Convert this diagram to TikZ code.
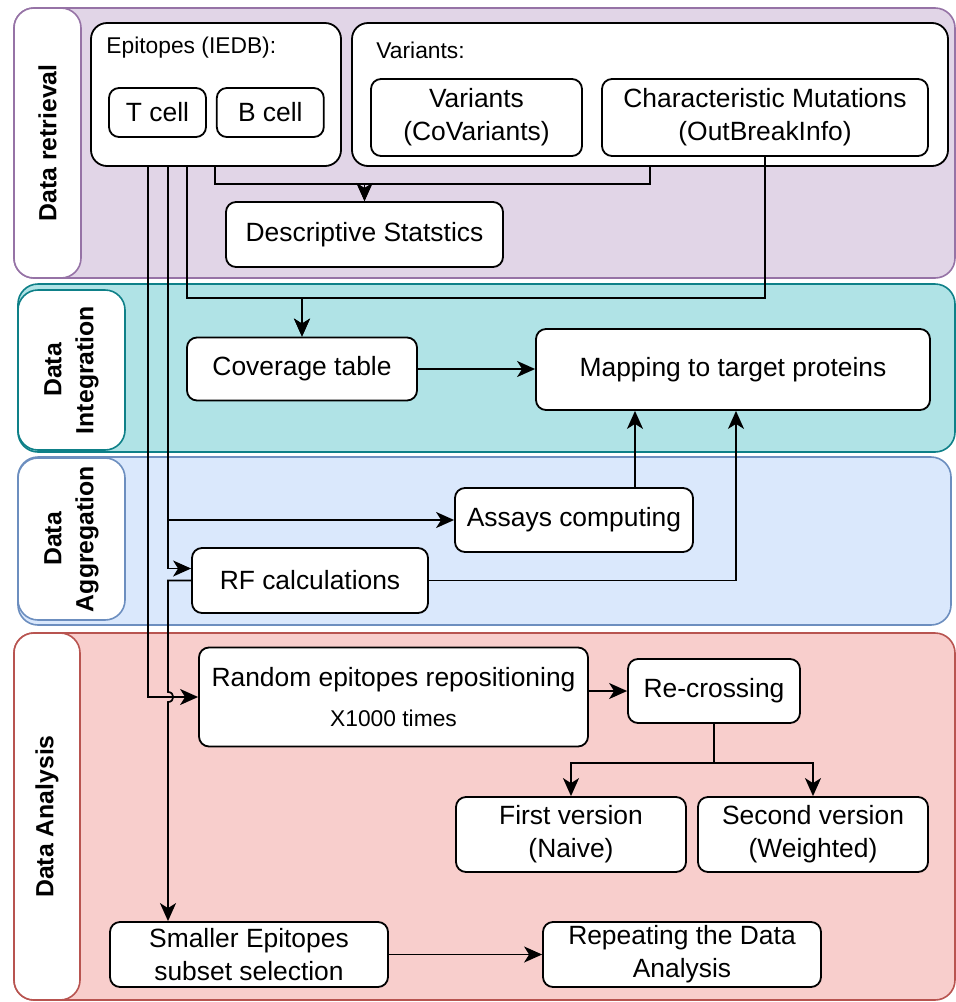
\documentclass[tikz,border=0pt]{standalone}
\usepackage{fontspec}
\setmainfont{Liberation Sans}
\usepackage{tikz}
\usetikzlibrary{positioning,arrows.meta,calc}

\definecolor{retrievalfill}{HTML}{E1D5E7}
\definecolor{retrievaldraw}{HTML}{9673A6}
\definecolor{integrationfill}{HTML}{B0E3E6}
\definecolor{integrationdraw}{HTML}{0E8088}
\definecolor{aggregationfill}{HTML}{DAE8FC}
\definecolor{aggregationdraw}{HTML}{6C8EBF}
\definecolor{analysisfill}{HTML}{F8CECC}
\definecolor{analysisdraw}{HTML}{B85450}

\newcommand{\blkfont}{\fontsize{13.2}{16.5}\selectfont}
\newcommand{\smlfont}{\fontsize{11.4}{13.7}\selectfont}
\newcommand{\lanefont}{\fontsize{12.4}{16}\selectfont\bfseries}

\begin{document}
\begin{tikzpicture}[
  x=0.5pt, y=-0.5pt,
  font=\blkfont,
  lane/.style={draw, rounded corners=10pt, line width=0.8pt},
  lanelabel/.style={draw, fill=white, rounded corners=10pt, line width=0.8pt,
                    rotate=90, align=center, font=\lanefont},
  group/.style={draw, fill=white, rounded corners=8pt, line width=0.9pt},
  block/.style={draw, fill=white, rounded corners=5pt, line width=0.9pt,
                align=center, inner sep=1pt},
  arrow/.style={-{Stealth[length=9pt,width=8pt,inset=2.5pt]}, line width=0.85pt}
]
\path[use as bounding box, fill=white] (0,0) rectangle (956,1002);

% Lanes
\node[lane, fill=retrievalfill, draw=retrievaldraw, minimum width=470.5pt, minimum height=135pt] (retrieval) at (484.5,143) {};
\node[lanelabel, draw=retrievaldraw, minimum width=135pt, minimum height=33.5pt] (retrievallbl) at (47.5,143) {Data retrieval};

\node[lane, fill=integrationfill, draw=integrationdraw, minimum width=468.5pt, minimum height=84pt] (integration) at (486.5,368) {};
\node[lanelabel, draw=integrationdraw, minimum width=80pt, minimum height=53.5pt] (integrationlbl) at (71.5,370) {Data\\Integration};

\node[lane, fill=aggregationfill, draw=aggregationdraw, minimum width=466.5pt, minimum height=84pt] (aggregation) at (484.5,541) {};
\node[lanelabel, draw=aggregationdraw, minimum width=81pt, minimum height=53.5pt] (aggregationlbl) at (71.5,539) {Data\\Aggregation};

\node[lane, fill=analysisfill, draw=analysisdraw, minimum width=470.5pt, minimum height=183.5pt] (analysis) at (484.5,816.5) {};
\node[lanelabel, draw=analysisdraw, minimum width=183.5pt, minimum height=33pt] (analysislbl) at (47,816.5) {Data Analysis};

% Sources
\node[group, minimum width=125pt, minimum height=71.5pt] (epi) at (216,94.5) {};
\node[anchor=west, font=\smlfont, inner sep=0pt] (epilbl) at (106,48) {Epitopes (IEDB):};
\node[block, minimum width=48.5pt, minimum height=24.5pt] (tcell) at (157.5,112.5) {T cell};
\node[block, right=4.5pt of tcell, minimum width=53.5pt, minimum height=24.5pt] (bcell) {B cell};

\node[group, minimum width=298pt, minimum height=71.5pt] (var) at (650,94.5) {};
\node[anchor=west, font=\smlfont, inner sep=0pt] (varlbl) at (376,50) {Variants:};
\node[block, minimum width=105.5pt, minimum height=38.5pt] (covar) at (476.5,117.5) {Variants\\(CoVariants)};
\node[block, minimum width=163pt, minimum height=38.5pt] (charmut) at (765,117.5) {Characteristic Mutations\\(OutBreakInfo)};

\node[block, minimum width=138.5pt, minimum height=32.5pt] (desc) at (364.5,234.5) {Descriptive Statstics};

% Integration / aggregation
\node[block, minimum width=115pt, minimum height=31.5pt] (cov) at (302,369) {Coverage table};
\node[block, minimum width=197pt, minimum height=40.5pt] (map) at (733,369.5) {Mapping to target proteins};
\node[block, minimum width=119pt, minimum height=32pt] (assays) at (574,520) {Assays computing};
\node[block, minimum width=118pt, minimum height=32.5pt] (rf) at (310,580.5) {RF calculations};

% Analysis
\node[block, minimum width=194.5pt, minimum height=49.5pt] (rand) at (393.5,697)
  {Random epitopes repositioning\\[3.5pt]{\smlfont X1000 times}};
\node[block, minimum width=86pt, minimum height=32pt] (recross) at (714,691) {Re-crossing};
\node[block, minimum width=115pt, minimum height=37.5pt] (first) at (571,834.5) {First version\\(Naive)};
\node[block, minimum width=115pt, minimum height=37.5pt] (second) at (813,834.5) {Second version\\(Weighted)};
\node[block, minimum width=139pt, minimum height=32.5pt] (smaller) at (249,954.5) {Smaller Epitopes\\subset selection};
\node[block, minimum width=139pt, minimum height=32.5pt] (rpt) at (682,954.5) {Repeating the Data\\Analysis};

% Columns of the connectors
\coordinate (colA) at (148,0);
\coordinate (colB) at (168,0);
\coordinate (colC) at (187,0);
\coordinate (colD) at (215,0);
\coordinate (colE) at (635,0);
\coordinate (colF) at (736,0);

% Flows
\draw[arrow] (epi.south -| colD) -- ++(0,17) -| (desc.north);
\draw[arrow] (var.south) -- ++(0,17) -| (desc.north);
\draw[arrow] (epi.south -| colC) -- ++(0,131) -| (cov.north);
\draw[arrow] (charmut.south) -- ++(0,141) -| (cov.north);
\draw[arrow] (cov.east) -- (cov.east -| map.west);

\draw[arrow] (epi.south -| colB) |- (assays.west);
\draw[arrow] (epi.south -| colB) |- ($(rf.west)+(0,-12)$);
\draw[arrow] (assays.north -| colE) -- (map.south -| colE);
\draw[arrow] (rf.east) -| (map.south -| colF);

\draw[arrow] (epi.south -| colA) |- (rand.west);
\draw[arrow] (rf.west) -| ($(colB |- rand.west)+(0,-5)$) .. controls +(7,0) and +(7,0) .. ++(0,10) -- (colB |- smaller.north);
\draw[arrow] (rand.east |- recross.west) -- (recross.west);
\draw[arrow] (recross.south) -- ++(0,39) -| (first.north);
\draw[arrow] (recross.south) -- ++(0,39) -| (second.north);
\draw[arrow] (smaller.east) -- (rpt.west);

\end{tikzpicture}
\end{document}
